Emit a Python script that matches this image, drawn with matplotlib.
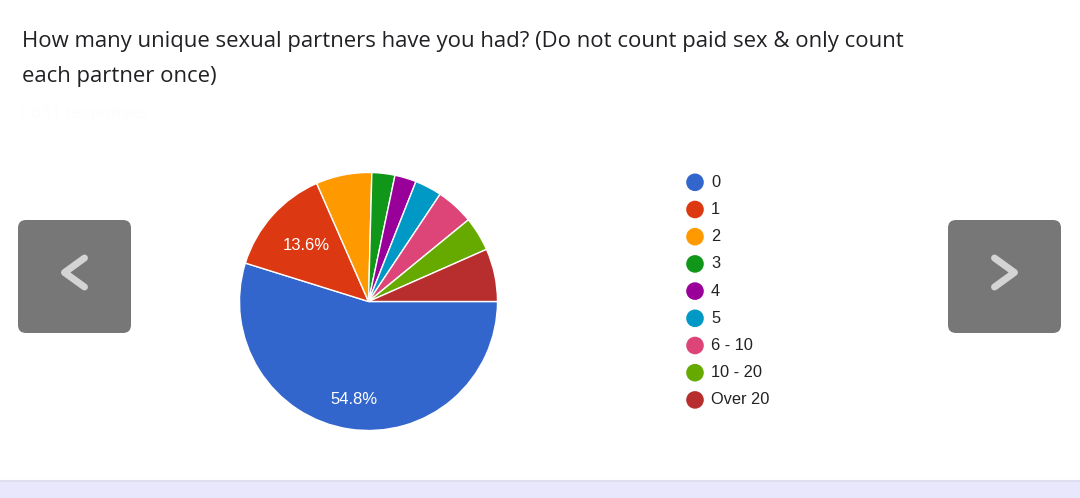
import numpy as np
import matplotlib
matplotlib.use('Agg')
import matplotlib.pyplot as plt
from matplotlib.patches import FancyBboxPatch, Circle, Rectangle

# dados
categorias = ['0', '1', '2', '3', '4', '5', '6 - 10', '10 - 20', 'Over 20']
respostas = [894, 222, 114, 47, 44, 55, 77, 70, 108]
cores = ['#3366cc', '#dc3912', '#ff9900', '#109618', '#990099',
         '#0099c6', '#dd4477', '#66aa00', '#b82e2e']
titulo = ['How many unique sexual partners have you had? (Do not count paid sex & only count',
          'each partner once)']
subtitulo = '1,631 responses'

W, H = 1080, 498
fig = plt.figure(figsize=(W / 100, H / 100), dpi=100)
fig.patch.set_facecolor('white')

# eixo de fundo em pixels
bg = fig.add_axes([0, 0, 1, 1])
bg.set_xlim(0, W)
bg.set_ylim(H, 0)
bg.axis('off')

# titulo
bg.text(22, 46.5, titulo[0], fontsize=15.9, family='Open Sans', color='#202124', va='baseline')
bg.text(22, 81.5, titulo[1], fontsize=15.9, family='Open Sans', color='#202124', va='baseline')
bg.text(17, 118, subtitulo, fontsize=13, family='Roboto', color='#fdfdfd', va='baseline')

# faixa de baixo
bg.add_patch(Rectangle((0, 480), W, 18, facecolor='#e8e7fc', edgecolor='none'))
bg.plot([0, W], [480.5, 480.5], color='#e0dff0', lw=1.5)

# botoes de navegacao
for x0, seta in [(18, -1), (948, 1)]:
    bg.add_patch(FancyBboxPatch((x0 + 8, 228), 113 - 16, 113 - 16,
                                boxstyle='round,pad=8', facecolor='#777777', edgecolor='none'))
    cx = x0 + 56.5
    xs = [cx - 10 * seta, cx + 10 * seta, cx - 10 * seta]
    bg.plot(xs, [258, 272.5, 287], color='#d4d4d4', lw=5, solid_capstyle='round',
            solid_joinstyle='round')

# legenda
for i, (cat, cor) in enumerate(zip(categorias, cores)):
    y = 182.3 + i * 27.2
    bg.add_patch(Circle((695, y), 8.8, facecolor=cor, edgecolor='none'))
    bg.text(711, y, cat, fontsize=11.8, family='Liberation Sans', color='#222222', va='center')

# pizza
cx, cy, r = 368.5, 301.5, 129
ax = fig.add_axes([(cx - r) / W, (H - cy - r) / H, 2 * r / W, 2 * r / H])
wedges, textos, autotextos = ax.pie(
    respostas, colors=cores, startangle=0, counterclock=False,
    wedgeprops=dict(edgecolor='white', linewidth=1),
    autopct=lambda p: f'{p:.1f}%' if p > 10 else '', pctdistance=0.65,
    textprops=dict(color='white', fontsize=12, family='Liberation Sans'))
# ajusta distancia dos rotulos (google poe o maior mais longe)
dist = [0.77, 0.65]
for w, t, d in zip(wedges, autotextos, dist):
    ang = np.deg2rad((w.theta1 + w.theta2) / 2)
    t.set_position((d * np.cos(ang), d * np.sin(ang)))
ax.set_xlim(-1, 1)
ax.set_ylim(-1, 1)
ax.set_aspect('auto')
ax.axis('off')

fig.savefig('out.png', dpi=100, facecolor='white')
